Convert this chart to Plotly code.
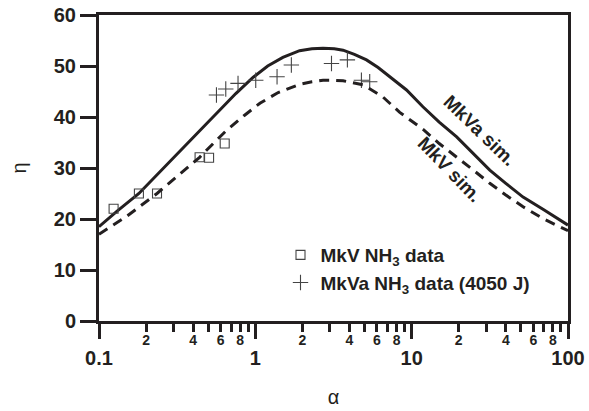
import plotly.graph_objects as go

# Simulated efficiency curves (alpha, eta)
mkva_sim_alpha = [0.1, 0.13, 0.18, 0.25, 0.38, 0.564, 0.75, 0.97, 1.2, 1.5, 1.92, 2.3, 2.71, 3.2, 3.64, 4.3, 5.14, 6.1, 7.24, 9.27, 11.8, 15.0, 19.4, 25.0, 31.6, 40.0, 51.6, 70.0, 100]
mkva_sim_eta = [18.5, 21.5, 25.0, 29.5, 35.4, 40.7, 44.6, 47.8, 50.0, 51.7, 53.0, 53.4, 53.5, 53.4, 53.1, 52.3, 51.2, 49.7, 47.9, 45.3, 42.0, 39.0, 36.1, 32.7, 29.6, 27.0, 24.3, 21.8, 18.8]

mkv_sim_alpha = [0.1, 0.15, 0.235, 0.33, 0.44, 0.55, 0.65, 0.85, 1.07, 1.4, 1.92, 2.3, 2.71, 3.2, 3.64, 4.9, 6.51, 8.39, 11.8, 15.0, 19.4, 25.0, 31.6, 40.0, 51.6, 70.0, 100]
mkv_sim_eta = [17.0, 20.5, 25.0, 28.8, 32.1, 35.1, 37.3, 40.3, 42.7, 44.8, 46.4, 46.9, 47.2, 47.2, 47.1, 46.3, 44.0, 40.9, 37.6, 34.8, 32.2, 29.5, 27.0, 24.7, 22.4, 20.0, 17.7]

# Measured data
mkv_data_alpha = [0.124, 0.18, 0.235, 0.44, 0.506, 0.637]
mkv_data_eta = [22.0, 25.0, 25.0, 32.1, 32.0, 34.8]

mkva_data_alpha = [0.564, 0.647, 0.775, 1.006, 1.377, 1.70, 3.07, 3.88, 4.77, 5.39]
mkva_data_eta = [44.3, 45.5, 46.6, 47.2, 47.9, 50.2, 50.5, 51.2, 47.2, 46.9]

# Axis ticks
y_ticks = [0, 10, 20, 30, 40, 50, 60]
x_major_ticks = [0.1, 1, 10, 100]
x_major_text = ["0.1", "1", "10", "100"]
x_minor_ticks = [m * d for d in (0.1, 1, 10) for m in range(2, 10)]
x_minor_label_vals = [m * d for d in (0.1, 1, 10) for m in (2, 4, 6, 8)]
x_minor_label_text = [str(m) for d in (0.1, 1, 10) for m in (2, 4, 6, 8)]

INK = "#231f20"
FONT = "Liberation Sans, Arial, sans-serif"

fig = go.Figure()

fig.add_trace(go.Scatter(
    x=mkva_sim_alpha, y=mkva_sim_eta, mode="lines",
    line=dict(color=INK, width=3),
    showlegend=False, hoverinfo="skip",
))
fig.add_trace(go.Scatter(
    x=mkv_sim_alpha, y=mkv_sim_eta, mode="lines", xaxis="x2",
    line=dict(color=INK, width=3, dash="10px,7px"),
    showlegend=False, hoverinfo="skip",
))
fig.add_trace(go.Scatter(
    x=mkv_data_alpha, y=mkv_data_eta, mode="markers",
    name="MkV NH<sub>3</sub> data",
    marker=dict(symbol="square-open", size=9, color="#444444", line=dict(width=1.1)),
))
fig.add_trace(go.Scatter(
    x=mkva_data_alpha, y=mkva_data_eta, mode="markers",
    name="MkVa NH<sub>3</sub> data (4050 J)",
    marker=dict(symbol="cross-thin-open", size=11, color="#444444", line=dict(width=1.1, color="#444444")),
))

fig.add_annotation(x=1.436, y=37.4, xref="x", yref="y", text="MkVa sim.",
                   textangle=44, showarrow=False,
                   font=dict(family=FONT, size=19, weight="bold", color=INK))
fig.add_annotation(x=1.245, y=29.8, xref="x", yref="y", text="MkV sim.",
                   textangle=46, showarrow=False,
                   font=dict(family=FONT, size=19, weight="bold", color=INK))

fig.update_layout(
    width=589, height=411,
    margin=dict(l=99, r=21, t=15, b=90),
    paper_bgcolor="white", plot_bgcolor="white",
    font=dict(family=FONT, color=INK),
    xaxis=dict(
        type="log", range=[-1, 2], automargin=False,
        tickvals=x_major_ticks, ticktext=x_major_text,
        ticks="outside", ticklen=15, tickwidth=3, tickcolor=INK,
        tickfont=dict(family=FONT, size=20, weight="bold", color=INK),
        ticklabelstandoff=2,
        minor=dict(tickvals=x_minor_ticks, ticks="outside", ticklen=8, tickwidth=3, tickcolor=INK, showgrid=False),
        showline=True, linewidth=3, linecolor=INK, mirror=True,
        showgrid=False, zeroline=False,
        title=dict(text="α", font=dict(family=FONT, size=20, color=INK), standoff=22),
    ),
    xaxis2=dict(
        type="log", range=[-1, 2], overlaying="x", anchor="y", side="bottom",
        automargin=False,
        tickvals=x_minor_label_vals, ticktext=x_minor_label_text,
        ticks="", showline=False, showgrid=False, zeroline=False,
        tickfont=dict(family=FONT, size=14, weight="bold", color=INK),
        ticklabelstandoff=9,
    ),
    yaxis=dict(
        range=[0, 60], tickvals=y_ticks, automargin=False,
        ticks="outside", ticklen=16, tickwidth=3, tickcolor=INK,
        tickfont=dict(family=FONT, size=20, weight="bold", color=INK),
        showline=True, linewidth=3, linecolor=INK, mirror=True,
        showgrid=False, zeroline=False,
        title=dict(text="η", font=dict(family=FONT, size=20, color=INK), standoff=22),
    ),
    legend=dict(
        x=0.387, y=0.17, xanchor="left", yanchor="middle",
        bgcolor="rgba(0,0,0,0)", itemwidth=30, tracegroupgap=0,
        font=dict(family=FONT, size=19, weight="bold", color=INK),
    ),
)

fig.write_html("out.html")
